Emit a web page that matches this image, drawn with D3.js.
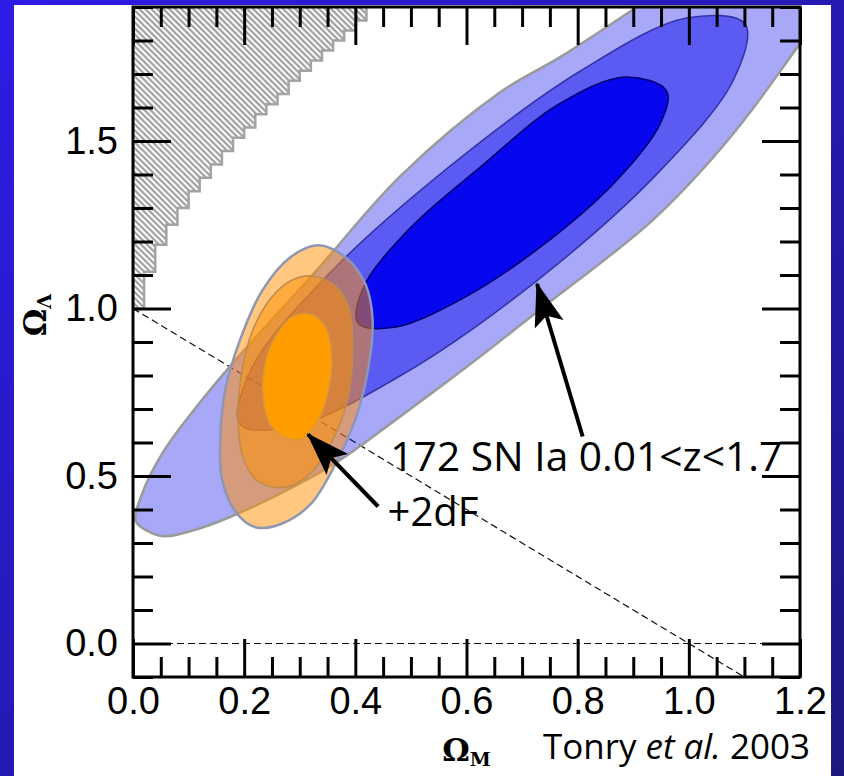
<!DOCTYPE html>
<html>
<head>
<meta charset="utf-8">
<script src="https://cdn.jsdelivr.net/npm/d3@7"></script>
<style>
  body { margin: 0; background: #fff; }
  svg { display: block; }
</style>
</head>
<body>
<script>
// tick labels
const omegaMTicks = [0, 0.2, 0.4, 0.6, 0.8, 1.0, 1.2];
const omegaLTicks = [0, 0.5, 1.0, 1.5];

// no big bang region, edge read every 0.02 in Omega_M
const noBigBangM = [0, 0.02, 0.04, 0.06, 0.08, 0.10, 0.12, 0.14, 0.16, 0.18, 0.20, 0.22,
  0.24, 0.26, 0.28, 0.30, 0.32, 0.34, 0.36, 0.38, 0.40, 0.42];
const noBigBangL = [1.00, 1.11, 1.19, 1.25, 1.30, 1.35, 1.39, 1.43, 1.47, 1.51, 1.54, 1.58,
  1.61, 1.64, 1.68, 1.71, 1.74, 1.77, 1.80, 1.83, 1.86, 1.89];

// SN Ia confidence contours [Omega_M, Omega_Lambda]
const snOuter = [[0.005, 0.365], [0.031, 0.332], [0.058, 0.320], [0.115, 0.341], [0.193, 0.391],
  [0.355, 0.529], [0.481, 0.678], [0.607, 0.834], [0.733, 0.998], [0.937, 1.267], [1.072, 1.506],
  [1.202, 1.796], [1.265, 1.954], [1.292, 2.103], [1.238, 2.193], [1.094, 2.103], [0.986, 1.990],
  [0.901, 1.894], [0.769, 1.751], [0.661, 1.646], [0.481, 1.395], [0.332, 1.117], [0.175, 0.828],
  [0.115, 0.708], [0.054, 0.571], [0.016, 0.445]];
const snMid = [[1.101, 1.849], [1.081, 1.685], [0.944, 1.404], [0.728, 1.085], [0.489, 0.807],
  [0.294, 0.651], [0.193, 0.654], [0.213, 0.819], [0.350, 1.099], [0.566, 1.419], [0.805, 1.709],
  [0.996, 1.867]];
const snInner = [[0.960, 1.649], [0.948, 1.550], [0.867, 1.377], [0.735, 1.186], [0.591, 1.028],
  [0.470, 0.944], [0.405, 0.956], [0.414, 1.061], [0.495, 1.234], [0.627, 1.425], [0.766, 1.610],
  [0.886, 1.691]];

// 2dF contours
const dfOuter = [[0.333, 1.189], [0.382, 1.153], [0.418, 1.073], [0.431, 0.968], [0.423, 0.819],
  [0.400, 0.669], [0.364, 0.535], [0.319, 0.415], [0.265, 0.356], [0.220, 0.347], [0.184, 0.394],
  [0.160, 0.490], [0.157, 0.609], [0.166, 0.759], [0.193, 0.908], [0.232, 1.052], [0.283, 1.153]];
const dfMid = [[0.323, 1.097], [0.364, 1.067], [0.389, 0.998], [0.395, 0.878], [0.386, 0.729],
  [0.360, 0.610], [0.323, 0.514], [0.274, 0.466], [0.225, 0.484], [0.198, 0.556], [0.189, 0.669],
  [0.195, 0.804], [0.214, 0.929], [0.247, 1.028], [0.283, 1.082]];
const dfInner = [[0.319, 0.983], [0.346, 0.944], [0.357, 0.863], [0.351, 0.753], [0.332, 0.663],
  [0.301, 0.609], [0.274, 0.615], [0.247, 0.654], [0.234, 0.744], [0.240, 0.849], [0.261, 0.929],
  [0.286, 0.974]];

// reference lines: flat universe and Omega_Lambda = 0
const flatLine = [[0, 1], [1.2, -0.2]];
const zeroLine = [[0, 0], [1.2, 0]];

const width = 844;
const height = 776;
const margin = { top: 7, right: 44, bottom: 99, left: 133 };

const x = d3.scaleLinear().domain([0, 1.2]).range([margin.left, width - margin.right]);
const y = d3.scaleLinear().domain([-0.1, 1.9]).range([height - margin.bottom, margin.top]);

const svg = d3.select('body').append('svg').attr('width', width).attr('height', height);
const defs = svg.append('defs');

const bg = defs.append('linearGradient').attr('id', 'bg')
  .attr('x1', 0).attr('y1', 0).attr('x2', 1).attr('y2', 1);
bg.append('stop').attr('offset', '0%').attr('stop-color', '#2d1ce6');
bg.append('stop').attr('offset', '100%').attr('stop-color', '#1c1780');

const hatch = defs.append('pattern').attr('id', 'hatch')
  .attr('patternUnits', 'userSpaceOnUse').attr('width', 4.24).attr('height', 4.24)
  .attr('patternTransform', 'rotate(45)');
hatch.append('rect').attr('width', 4.24).attr('height', 4.24).attr('fill', '#fff');
hatch.append('rect').attr('width', 4.24).attr('height', 2.2).attr('fill', '#a0a0a0');

defs.append('clipPath').attr('id', 'plot').append('rect')
  .attr('x', x(0)).attr('y', y(1.9)).attr('width', x(1.2) - x(0)).attr('height', y(-0.1) - y(1.9));

defs.append('marker').attr('id', 'head')
  .attr('markerUnits', 'userSpaceOnUse').attr('viewBox', '0 -16 44 32')
  .attr('markerWidth', 44).attr('markerHeight', 32).attr('refX', 42).attr('refY', 0)
  .attr('orient', 'auto')
  .append('path').attr('d', 'M0,-15L44,0L0,15L9,0Z').attr('fill', '#000');

// background frame
svg.append('rect').attr('width', width).attr('height', height).attr('fill', 'url(#bg)');
svg.append('rect').attr('x', 14).attr('y', 5).attr('width', 817).attr('height', height - 5).attr('fill', '#fff');

const plot = svg.append('g').attr('clip-path', 'url(#plot)');

// hatched no big bang region
const edge = noBigBangM.map((m, i) => [m, noBigBangL[i]]);
const stair = d3.line().x((d) => x(d[0])).y((d) => y(d[1])).curve(d3.curveStepAfter);
const lastM = noBigBangM[noBigBangM.length - 1];
plot.append('path')
  .attr('d', stair(edge) + `L${x(lastM)},${y(1.95)}L${x(0)},${y(1.95)}Z`)
  .attr('fill', 'url(#hatch)');
plot.append('path')
  .attr('d', stair(edge) + `L${x(lastM)},${y(1.95)}`)
  .attr('fill', 'none').attr('stroke', '#a3a3a3').attr('stroke-width', 2.5);

// axes: major and minor ticks on all four sides, pointing inward
const minorY = d3.range(-1, 20).filter((i) => i % 5 !== 0).map((i) => i / 10);
const minorX = d3.range(0, 25).filter((i) => i % 4 !== 0).map((i) => i * 0.05);

function drawAxis(axis, tx, ty, labels) {
  const g = svg.append('g').attr('transform', `translate(${tx},${ty})`).call(axis);
  g.select('.domain').remove();
  g.selectAll('line').attr('stroke', '#000').attr('stroke-width', 3);
  g.selectAll('text')
    .attr('font-family', '"Liberation Sans", Arial, sans-serif')
    .attr('font-size', 38).attr('fill', '#000');
  if (!labels) g.selectAll('text').remove();
  return g;
}

const fmt = d3.format('.1f');
drawAxis(d3.axisLeft(y).tickValues(omegaLTicks).tickSize(-38).tickPadding(15).tickFormat(fmt), x(0), 0, true);
drawAxis(d3.axisLeft(y).tickValues(minorY).tickSize(-20).tickFormat(''), x(0), 0, false);
drawAxis(d3.axisRight(y).tickValues(omegaLTicks).tickSize(-38).tickFormat(''), x(1.2), 0, false);
drawAxis(d3.axisRight(y).tickValues(minorY).tickSize(-20).tickFormat(''), x(1.2), 0, false);
drawAxis(d3.axisBottom(x).tickValues(omegaMTicks).tickSize(-38).tickPadding(10).tickFormat(fmt), 0, y(-0.1), true);
drawAxis(d3.axisBottom(x).tickValues(minorX).tickSize(-20).tickFormat(''), 0, y(-0.1), false);
drawAxis(d3.axisTop(x).tickValues(omegaMTicks).tickSize(-38).tickFormat(''), 0, y(1.9), false);
drawAxis(d3.axisTop(x).tickValues(minorX).tickSize(-20).tickFormat(''), 0, y(1.9), false);

svg.append('rect')
  .attr('x', x(0)).attr('y', y(1.9)).attr('width', x(1.2) - x(0)).attr('height', y(-0.1) - y(1.9))
  .attr('fill', 'none').attr('stroke', '#000').attr('stroke-width', 3);

// dashed reference lines
const straight = d3.line().x((d) => x(d[0])).y((d) => y(d[1]));
[flatLine, zeroLine].forEach((l) => {
  plot.append('path').attr('d', straight(l))
    .attr('fill', 'none').attr('stroke', '#111').attr('stroke-width', 1.2)
    .attr('stroke-dasharray', '7,4');
});

// contours
const closed = d3.line().x((d) => x(d[0])).y((d) => y(d[1])).curve(d3.curveCatmullRomClosed.alpha(0.5));
const contours = [
  { pts: snOuter, fill: '#0000ee', op: 0.34, stroke: '#9a9a9a', sw: 2.5 },
  { pts: snMid, fill: '#0000ee', op: 0.46, stroke: '#3434a8', sw: 1.6 },
  { pts: snInner, fill: '#0000ee', op: 0.93, stroke: '#00006e', sw: 1.6 },
  { pts: dfOuter, fill: '#ff9000', op: 0.5, stroke: '#8f96b4', sw: 2.5 },
  { pts: dfMid, fill: '#ff9000', op: 0.5, stroke: '#c08c4c', sw: 1.6 },
  { pts: dfInner, fill: '#ff9d00', op: 1, stroke: '#d89a3a', sw: 1.4 },
];
contours.forEach((c) => {
  plot.append('path').attr('d', closed(c.pts))
    .attr('fill', c.fill).attr('fill-opacity', c.op)
    .attr('stroke', c.stroke).attr('stroke-width', c.sw);
});

// annotations
const arrows = [
  { from: [0.809, 0.618], to: [0.727, 1.073] },
  { from: [0.441, 0.409], to: [0.315, 0.624] },
];
svg.selectAll('.arrow').data(arrows).enter().append('line').classed('arrow', true)
  .attr('x1', (d) => x(d.from[0])).attr('y1', (d) => y(d.from[1]))
  .attr('x2', (d) => x(d.to[0])).attr('y2', (d) => y(d.to[1]))
  .attr('stroke', '#000').attr('stroke-width', 4).attr('marker-end', 'url(#head)');

function fitWidth(sel, w) {
  const len = sel.node().getComputedTextLength();
  const fs = parseFloat(sel.attr('font-size'));
  sel.attr('font-size', (fs * w) / len);
}

const sans = '"Open Sans", "Noto Sans", sans-serif';
const snLabel = svg.append('text').attr('x', x(0.463)).attr('y', y(0.514))
  .attr('font-family', sans).attr('font-size', 40).attr('fill', '#000')
  .text('172 SN Ia 0.01<z<1.7');
fitWidth(snLabel, 392);
svg.append('text').attr('x', x(0.458)).attr('y', y(0.35))
  .attr('font-family', sans).attr('font-size', 40).attr('fill', '#000')
  .text('+2dF');

// axis titles
const serif = '"DejaVu Serif", "Liberation Serif", serif';
const xt = svg.append('text').attr('x', (x(0) + x(1.2)) / 2).attr('y', 761)
  .attr('text-anchor', 'middle').attr('font-family', serif).attr('font-weight', 'bold')
  .attr('font-size', 31).attr('fill', '#000');
xt.append('tspan').text('Ω');
xt.append('tspan').attr('font-size', 19).attr('dy', 5).text('M');

const yt = svg.append('text').attr('transform', `translate(46,${y(0.98)}) rotate(-90)`)
  .attr('text-anchor', 'middle').attr('font-family', serif).attr('font-weight', 'bold')
  .attr('font-size', 31).attr('fill', '#000');
yt.append('tspan').text('Ω');
yt.append('tspan').attr('font-size', 19).attr('dy', 5).text('Λ');

const cite = svg.append('text').attr('x', 543).attr('y', 759)
  .attr('font-family', sans).attr('font-size', 30).attr('fill', '#000');
cite.append('tspan').text('Tonry ');
cite.append('tspan').attr('font-style', 'italic').text('et al.');
cite.append('tspan').text(' 2003');
fitWidth(cite, 267);
</script>
</body>
</html>
